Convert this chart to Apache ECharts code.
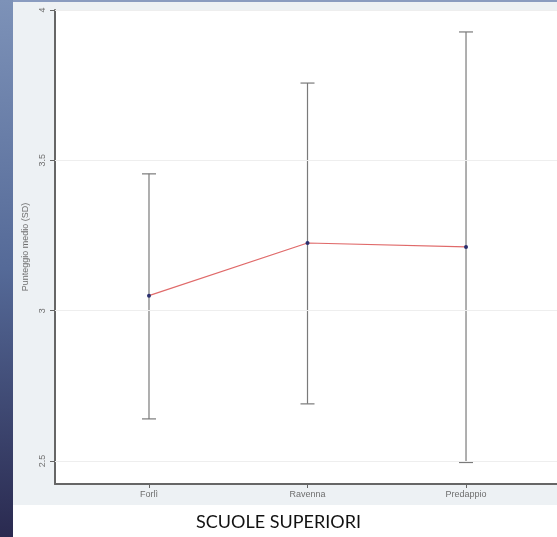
<!DOCTYPE html>
<html><head><meta charset="utf-8">
<script src="https://cdn.jsdelivr.net/npm/echarts@6/dist/echarts.min.js"></script>
<style>html,body{margin:0;padding:0;background:#fff}#c{width:557px;height:537px}</style>
</head><body><div id="c"></div>
<script>
const categories = ['Forlì', 'Ravenna', 'Predappio'];
const xPositions = [1, 2, 3];
const means = [3.05, 3.225, 3.212];
const lowers = [2.64, 2.69, 2.495];
const uppers = [3.455, 3.757, 3.927];
const yTicks = [2.5, 3, 3.5, 4];

const chart = echarts.init(document.getElementById('c'));
const errData = xPositions.map((x, i) => [x, lowers[i], uppers[i]]);
const lineData = xPositions.map((x, i) => [x, means[i]]);

chart.setOption({
  animation: false,
  backgroundColor: '#ffffff',
  graphic: [
    { type: 'rect', z: -10, shape: { x: 13, y: 0, width: 544, height: 505 }, style: { fill: '#edf1f4' } },
    { type: 'rect', z: -9, shape: { x: 0, y: 0, width: 13, height: 537 },
      style: { fill: new echarts.graphic.LinearGradient(0, 0, 0, 1, [
        { offset: 0, color: '#7d92b8' }, { offset: 0.5, color: '#556a98' }, { offset: 1, color: '#2a2a50' }]) } },
    { type: 'rect', z: -9, shape: { x: 13, y: 0, width: 544, height: 2 }, style: { fill: '#8a9cc0' } },
    { type: 'text', left: 'center', top: 513, style: { text: 'SCUOLE SUPERIORI', fontFamily: 'Lato, "DejaVu Sans", sans-serif', fontSize: 18, fill: '#111' } }
  ],
  grid: { left: 55, right: 0, top: 10, bottom: 53, show: true, backgroundColor: '#ffffff', borderWidth: 0 },
  xAxis: {
    type: 'value', min: 0.407, max: 3.574,
    axisLine: { show: true, onZero: false, lineStyle: { color: '#666', width: 2 } },
    axisTick: { show: true, customValues: xPositions, length: 4, lineStyle: { color: '#666' } },
    axisLabel: { customValues: xPositions, color: '#6e6e6e', fontSize: 9, margin: 6,
      formatter: v => categories[xPositions.indexOf(v)] || '' },
    splitLine: { show: false }
  },
  yAxis: {
    type: 'value', min: 2.4235, max: 4,
    name: 'Punteggio medio (SD)', nameLocation: 'middle', nameGap: 21, nameRotate: 90,
    nameTextStyle: { color: '#6e6e6e', fontSize: 9 },
    axisLine: { show: true, onZero: false, lineStyle: { color: '#666', width: 2 } },
    axisTick: { show: true, customValues: yTicks, length: 5, lineStyle: { color: '#666' } },
    axisLabel: { customValues: yTicks, rotate: 90, color: '#6e6e6e', fontSize: 9, margin: 8 },
    splitLine: { show: false }
  },
  series: [
    {
      type: 'custom', data: errData, z: 2,
      renderItem: function (params, api) {
        const lo = api.coord([api.value(0), api.value(1)]);
        const hi = api.coord([api.value(0), api.value(2)]);
        const w = 7;
        const st = { stroke: '#7a7a7a', lineWidth: 1.2 };
        return { type: 'group', children: [
          { type: 'line', shape: { x1: lo[0], y1: lo[1], x2: hi[0], y2: hi[1] }, style: st },
          { type: 'line', shape: { x1: lo[0] - w, y1: lo[1], x2: lo[0] + w, y2: lo[1] }, style: st },
          { type: 'line', shape: { x1: hi[0] - w, y1: hi[1], x2: hi[0] + w, y2: hi[1] }, style: st }
        ] };
      }
    },
    {
      type: 'line', data: lineData, z: 3,
      lineStyle: { color: '#e06a6a', width: 1.2 },
      symbol: 'circle', symbolSize: 4,
      itemStyle: { color: '#2a2f6e' },
      markLine: {
        silent: true, symbol: 'none', label: { show: false },
        lineStyle: { color: '#eeeeee', width: 1, type: 'solid' },
        data: yTicks.map(v => ({ yAxis: v }))
      }
    }
  ]
});
</script></body></html>
